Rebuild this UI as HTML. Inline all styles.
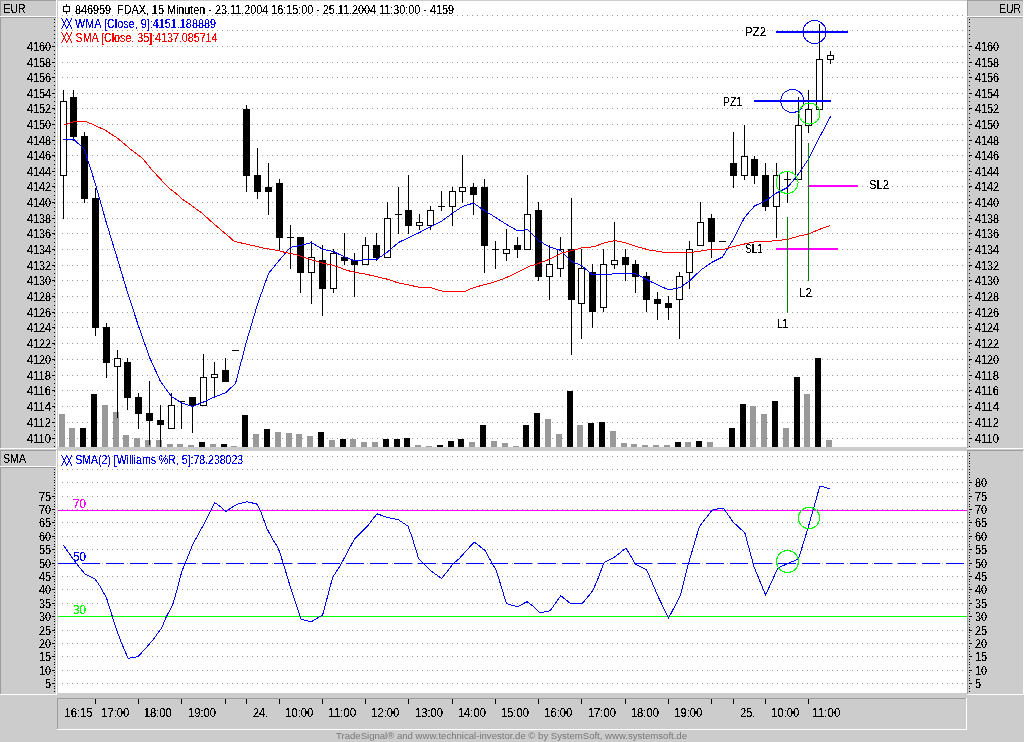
<!DOCTYPE html>
<html><head><meta charset="utf-8"><title>FDAX 15 Minuten</title>
<style>
html,body{margin:0;padding:0;background:#cccccc;width:1024px;height:742px;overflow:hidden}
svg{display:block;will-change:transform}
text{font-family:"Liberation Sans", Arial, sans-serif;white-space:pre}
</style></head><body>
<svg width="1024" height="742" viewBox="0 0 1024 742" shape-rendering="crispEdges">
<defs><filter id="crisp" filterUnits="userSpaceOnUse" x="0" y="0" width="1024" height="742" color-interpolation-filters="sRGB"><feComponentTransfer><feFuncA type="discrete" tableValues="0 0 1 1 1"/></feComponentTransfer></filter></defs>
<rect x="0" y="0" width="1024" height="742" fill="#cccccc"/>
<rect x="0" y="0" width="57" height="17" fill="#cccccc"/>
<rect x="0" y="0" width="56" height="1" fill="#9c9c9c"/>
<rect x="0" y="0" width="1" height="16" fill="#9c9c9c"/>
<rect x="0" y="16" width="57" height="1" fill="#ffffff"/>
<rect x="56" y="0" width="1" height="17" fill="#ffffff"/>
<rect x="0" y="17" width="57" height="432" fill="#cccccc"/>
<rect x="0" y="17" width="56" height="1" fill="#9c9c9c"/>
<rect x="0" y="17" width="1" height="431" fill="#9c9c9c"/>
<rect x="0" y="448" width="57" height="1" fill="#ffffff"/>
<rect x="56" y="17" width="1" height="432" fill="#ffffff"/>
<rect x="0" y="450" width="57" height="17" fill="#cccccc"/>
<rect x="0" y="450" width="56" height="1" fill="#9c9c9c"/>
<rect x="0" y="450" width="1" height="16" fill="#9c9c9c"/>
<rect x="0" y="466" width="57" height="1" fill="#ffffff"/>
<rect x="56" y="450" width="1" height="17" fill="#ffffff"/>
<rect x="0" y="467" width="57" height="228" fill="#cccccc"/>
<rect x="0" y="467" width="56" height="1" fill="#9c9c9c"/>
<rect x="0" y="467" width="1" height="227" fill="#9c9c9c"/>
<rect x="0" y="694" width="57" height="1" fill="#ffffff"/>
<rect x="56" y="467" width="1" height="228" fill="#ffffff"/>
<rect x="967" y="0" width="57" height="17" fill="#cccccc"/>
<rect x="967" y="0" width="56" height="1" fill="#9c9c9c"/>
<rect x="967" y="0" width="1" height="16" fill="#9c9c9c"/>
<rect x="967" y="16" width="57" height="1" fill="#ffffff"/>
<rect x="1023" y="0" width="1" height="17" fill="#ffffff"/>
<rect x="967" y="17" width="57" height="432" fill="#cccccc"/>
<rect x="967" y="17" width="56" height="1" fill="#9c9c9c"/>
<rect x="967" y="17" width="1" height="431" fill="#9c9c9c"/>
<rect x="967" y="448" width="57" height="1" fill="#ffffff"/>
<rect x="1023" y="17" width="1" height="432" fill="#ffffff"/>
<rect x="967" y="450" width="57" height="245" fill="#cccccc"/>
<rect x="967" y="450" width="56" height="1" fill="#9c9c9c"/>
<rect x="967" y="450" width="1" height="244" fill="#9c9c9c"/>
<rect x="967" y="694" width="57" height="1" fill="#ffffff"/>
<rect x="1023" y="450" width="1" height="245" fill="#ffffff"/>
<rect x="57" y="698" width="910" height="32" fill="#cccccc"/>
<rect x="57" y="698" width="909" height="1" fill="#9c9c9c"/>
<rect x="57" y="698" width="1" height="31" fill="#9c9c9c"/>
<rect x="57" y="729" width="910" height="1" fill="#ffffff"/>
<rect x="966" y="698" width="1" height="32" fill="#ffffff"/>
<rect x="58" y="1" width="909" height="446" fill="#ffffff"/>
<rect x="58" y="451" width="909" height="242" fill="#ffffff"/>
<path d="M62 15.5H966 M62 30.5H966 M62 46.5H966 M62 62.5H966 M62 77.5H966 M62 93.5H966 M62 108.5H966 M62 124.5H966 M62 140.5H966 M62 155.5H966 M62 171.5H966 M62 186.5H966 M62 202.5H966 M62 218.5H966 M62 233.5H966 M62 249.5H966 M62 265.5H966 M62 280.5H966 M62 296.5H966 M62 312.5H966 M62 327.5H966 M62 343.5H966 M62 359.5H966 M62 375.5H966 M62 390.5H966 M62 406.5H966 M62 422.5H966 M62 438.5H966 M62 456.5H966 M62 469.5H966 M62 482.5H966 M62 496.5H966 M62 509.5H966 M62 522.5H966 M62 536.5H966 M62 549.5H966 M62 563.5H966 M62 576.5H966 M62 589.5H966 M62 603.5H966 M62 616.5H966 M62 630.5H966 M62 643.5H966 M62 656.5H966 M62 670.5H966 M62 683.5H966" stroke="#999999" stroke-width="1" stroke-dasharray="1 4" fill="none"/>
<rect x="54" y="19" width="1" height="1" fill="#000"/>
<rect x="969" y="19" width="1" height="1" fill="#000"/>
<rect x="54" y="22" width="1" height="1" fill="#000"/>
<rect x="969" y="22" width="1" height="1" fill="#000"/>
<rect x="54" y="26" width="1" height="1" fill="#000"/>
<rect x="969" y="26" width="1" height="1" fill="#000"/>
<rect x="54" y="30" width="1" height="1" fill="#000"/>
<rect x="969" y="30" width="1" height="1" fill="#000"/>
<rect x="54" y="34" width="1" height="1" fill="#000"/>
<rect x="969" y="34" width="1" height="1" fill="#000"/>
<rect x="54" y="38" width="1" height="1" fill="#000"/>
<rect x="969" y="38" width="1" height="1" fill="#000"/>
<rect x="54" y="42" width="1" height="1" fill="#000"/>
<rect x="969" y="42" width="1" height="1" fill="#000"/>
<rect x="54" y="46" width="1" height="1" fill="#000"/>
<rect x="969" y="46" width="1" height="1" fill="#000"/>
<rect x="54" y="50" width="1" height="1" fill="#000"/>
<rect x="969" y="50" width="1" height="1" fill="#000"/>
<rect x="54" y="54" width="1" height="1" fill="#000"/>
<rect x="969" y="54" width="1" height="1" fill="#000"/>
<rect x="54" y="58" width="1" height="1" fill="#000"/>
<rect x="969" y="58" width="1" height="1" fill="#000"/>
<rect x="54" y="62" width="1" height="1" fill="#000"/>
<rect x="969" y="62" width="1" height="1" fill="#000"/>
<rect x="54" y="66" width="1" height="1" fill="#000"/>
<rect x="969" y="66" width="1" height="1" fill="#000"/>
<rect x="54" y="70" width="1" height="1" fill="#000"/>
<rect x="969" y="70" width="1" height="1" fill="#000"/>
<rect x="54" y="73" width="1" height="1" fill="#000"/>
<rect x="969" y="73" width="1" height="1" fill="#000"/>
<rect x="54" y="77" width="1" height="1" fill="#000"/>
<rect x="969" y="77" width="1" height="1" fill="#000"/>
<rect x="54" y="81" width="1" height="1" fill="#000"/>
<rect x="969" y="81" width="1" height="1" fill="#000"/>
<rect x="54" y="85" width="1" height="1" fill="#000"/>
<rect x="969" y="85" width="1" height="1" fill="#000"/>
<rect x="54" y="89" width="1" height="1" fill="#000"/>
<rect x="969" y="89" width="1" height="1" fill="#000"/>
<rect x="54" y="93" width="1" height="1" fill="#000"/>
<rect x="969" y="93" width="1" height="1" fill="#000"/>
<rect x="54" y="97" width="1" height="1" fill="#000"/>
<rect x="969" y="97" width="1" height="1" fill="#000"/>
<rect x="54" y="101" width="1" height="1" fill="#000"/>
<rect x="969" y="101" width="1" height="1" fill="#000"/>
<rect x="54" y="105" width="1" height="1" fill="#000"/>
<rect x="969" y="105" width="1" height="1" fill="#000"/>
<rect x="54" y="109" width="1" height="1" fill="#000"/>
<rect x="969" y="109" width="1" height="1" fill="#000"/>
<rect x="54" y="113" width="1" height="1" fill="#000"/>
<rect x="969" y="113" width="1" height="1" fill="#000"/>
<rect x="54" y="117" width="1" height="1" fill="#000"/>
<rect x="969" y="117" width="1" height="1" fill="#000"/>
<rect x="54" y="120" width="1" height="1" fill="#000"/>
<rect x="969" y="120" width="1" height="1" fill="#000"/>
<rect x="54" y="124" width="1" height="1" fill="#000"/>
<rect x="969" y="124" width="1" height="1" fill="#000"/>
<rect x="54" y="128" width="1" height="1" fill="#000"/>
<rect x="969" y="128" width="1" height="1" fill="#000"/>
<rect x="54" y="132" width="1" height="1" fill="#000"/>
<rect x="969" y="132" width="1" height="1" fill="#000"/>
<rect x="54" y="136" width="1" height="1" fill="#000"/>
<rect x="969" y="136" width="1" height="1" fill="#000"/>
<rect x="54" y="140" width="1" height="1" fill="#000"/>
<rect x="969" y="140" width="1" height="1" fill="#000"/>
<rect x="54" y="144" width="1" height="1" fill="#000"/>
<rect x="969" y="144" width="1" height="1" fill="#000"/>
<rect x="54" y="148" width="1" height="1" fill="#000"/>
<rect x="969" y="148" width="1" height="1" fill="#000"/>
<rect x="54" y="152" width="1" height="1" fill="#000"/>
<rect x="969" y="152" width="1" height="1" fill="#000"/>
<rect x="54" y="156" width="1" height="1" fill="#000"/>
<rect x="969" y="156" width="1" height="1" fill="#000"/>
<rect x="54" y="160" width="1" height="1" fill="#000"/>
<rect x="969" y="160" width="1" height="1" fill="#000"/>
<rect x="54" y="164" width="1" height="1" fill="#000"/>
<rect x="969" y="164" width="1" height="1" fill="#000"/>
<rect x="54" y="168" width="1" height="1" fill="#000"/>
<rect x="969" y="168" width="1" height="1" fill="#000"/>
<rect x="54" y="171" width="1" height="1" fill="#000"/>
<rect x="969" y="171" width="1" height="1" fill="#000"/>
<rect x="54" y="175" width="1" height="1" fill="#000"/>
<rect x="969" y="175" width="1" height="1" fill="#000"/>
<rect x="54" y="179" width="1" height="1" fill="#000"/>
<rect x="969" y="179" width="1" height="1" fill="#000"/>
<rect x="54" y="183" width="1" height="1" fill="#000"/>
<rect x="969" y="183" width="1" height="1" fill="#000"/>
<rect x="54" y="187" width="1" height="1" fill="#000"/>
<rect x="969" y="187" width="1" height="1" fill="#000"/>
<rect x="54" y="191" width="1" height="1" fill="#000"/>
<rect x="969" y="191" width="1" height="1" fill="#000"/>
<rect x="54" y="195" width="1" height="1" fill="#000"/>
<rect x="969" y="195" width="1" height="1" fill="#000"/>
<rect x="54" y="199" width="1" height="1" fill="#000"/>
<rect x="969" y="199" width="1" height="1" fill="#000"/>
<rect x="54" y="203" width="1" height="1" fill="#000"/>
<rect x="969" y="203" width="1" height="1" fill="#000"/>
<rect x="54" y="207" width="1" height="1" fill="#000"/>
<rect x="969" y="207" width="1" height="1" fill="#000"/>
<rect x="54" y="211" width="1" height="1" fill="#000"/>
<rect x="969" y="211" width="1" height="1" fill="#000"/>
<rect x="54" y="215" width="1" height="1" fill="#000"/>
<rect x="969" y="215" width="1" height="1" fill="#000"/>
<rect x="54" y="218" width="1" height="1" fill="#000"/>
<rect x="969" y="218" width="1" height="1" fill="#000"/>
<rect x="54" y="222" width="1" height="1" fill="#000"/>
<rect x="969" y="222" width="1" height="1" fill="#000"/>
<rect x="54" y="226" width="1" height="1" fill="#000"/>
<rect x="969" y="226" width="1" height="1" fill="#000"/>
<rect x="54" y="230" width="1" height="1" fill="#000"/>
<rect x="969" y="230" width="1" height="1" fill="#000"/>
<rect x="54" y="234" width="1" height="1" fill="#000"/>
<rect x="969" y="234" width="1" height="1" fill="#000"/>
<rect x="54" y="238" width="1" height="1" fill="#000"/>
<rect x="969" y="238" width="1" height="1" fill="#000"/>
<rect x="54" y="242" width="1" height="1" fill="#000"/>
<rect x="969" y="242" width="1" height="1" fill="#000"/>
<rect x="54" y="246" width="1" height="1" fill="#000"/>
<rect x="969" y="246" width="1" height="1" fill="#000"/>
<rect x="54" y="250" width="1" height="1" fill="#000"/>
<rect x="969" y="250" width="1" height="1" fill="#000"/>
<rect x="54" y="254" width="1" height="1" fill="#000"/>
<rect x="969" y="254" width="1" height="1" fill="#000"/>
<rect x="54" y="258" width="1" height="1" fill="#000"/>
<rect x="969" y="258" width="1" height="1" fill="#000"/>
<rect x="54" y="262" width="1" height="1" fill="#000"/>
<rect x="969" y="262" width="1" height="1" fill="#000"/>
<rect x="54" y="266" width="1" height="1" fill="#000"/>
<rect x="969" y="266" width="1" height="1" fill="#000"/>
<rect x="54" y="269" width="1" height="1" fill="#000"/>
<rect x="969" y="269" width="1" height="1" fill="#000"/>
<rect x="54" y="273" width="1" height="1" fill="#000"/>
<rect x="969" y="273" width="1" height="1" fill="#000"/>
<rect x="54" y="277" width="1" height="1" fill="#000"/>
<rect x="969" y="277" width="1" height="1" fill="#000"/>
<rect x="54" y="281" width="1" height="1" fill="#000"/>
<rect x="969" y="281" width="1" height="1" fill="#000"/>
<rect x="54" y="285" width="1" height="1" fill="#000"/>
<rect x="969" y="285" width="1" height="1" fill="#000"/>
<rect x="54" y="289" width="1" height="1" fill="#000"/>
<rect x="969" y="289" width="1" height="1" fill="#000"/>
<rect x="54" y="293" width="1" height="1" fill="#000"/>
<rect x="969" y="293" width="1" height="1" fill="#000"/>
<rect x="54" y="297" width="1" height="1" fill="#000"/>
<rect x="969" y="297" width="1" height="1" fill="#000"/>
<rect x="54" y="301" width="1" height="1" fill="#000"/>
<rect x="969" y="301" width="1" height="1" fill="#000"/>
<rect x="54" y="305" width="1" height="1" fill="#000"/>
<rect x="969" y="305" width="1" height="1" fill="#000"/>
<rect x="54" y="309" width="1" height="1" fill="#000"/>
<rect x="969" y="309" width="1" height="1" fill="#000"/>
<rect x="54" y="313" width="1" height="1" fill="#000"/>
<rect x="969" y="313" width="1" height="1" fill="#000"/>
<rect x="54" y="316" width="1" height="1" fill="#000"/>
<rect x="969" y="316" width="1" height="1" fill="#000"/>
<rect x="54" y="320" width="1" height="1" fill="#000"/>
<rect x="969" y="320" width="1" height="1" fill="#000"/>
<rect x="54" y="324" width="1" height="1" fill="#000"/>
<rect x="969" y="324" width="1" height="1" fill="#000"/>
<rect x="54" y="328" width="1" height="1" fill="#000"/>
<rect x="969" y="328" width="1" height="1" fill="#000"/>
<rect x="54" y="332" width="1" height="1" fill="#000"/>
<rect x="969" y="332" width="1" height="1" fill="#000"/>
<rect x="54" y="336" width="1" height="1" fill="#000"/>
<rect x="969" y="336" width="1" height="1" fill="#000"/>
<rect x="54" y="340" width="1" height="1" fill="#000"/>
<rect x="969" y="340" width="1" height="1" fill="#000"/>
<rect x="54" y="344" width="1" height="1" fill="#000"/>
<rect x="969" y="344" width="1" height="1" fill="#000"/>
<rect x="54" y="348" width="1" height="1" fill="#000"/>
<rect x="969" y="348" width="1" height="1" fill="#000"/>
<rect x="54" y="352" width="1" height="1" fill="#000"/>
<rect x="969" y="352" width="1" height="1" fill="#000"/>
<rect x="54" y="356" width="1" height="1" fill="#000"/>
<rect x="969" y="356" width="1" height="1" fill="#000"/>
<rect x="54" y="360" width="1" height="1" fill="#000"/>
<rect x="969" y="360" width="1" height="1" fill="#000"/>
<rect x="54" y="364" width="1" height="1" fill="#000"/>
<rect x="969" y="364" width="1" height="1" fill="#000"/>
<rect x="54" y="367" width="1" height="1" fill="#000"/>
<rect x="969" y="367" width="1" height="1" fill="#000"/>
<rect x="54" y="371" width="1" height="1" fill="#000"/>
<rect x="969" y="371" width="1" height="1" fill="#000"/>
<rect x="54" y="375" width="1" height="1" fill="#000"/>
<rect x="969" y="375" width="1" height="1" fill="#000"/>
<rect x="54" y="379" width="1" height="1" fill="#000"/>
<rect x="969" y="379" width="1" height="1" fill="#000"/>
<rect x="54" y="383" width="1" height="1" fill="#000"/>
<rect x="969" y="383" width="1" height="1" fill="#000"/>
<rect x="54" y="387" width="1" height="1" fill="#000"/>
<rect x="969" y="387" width="1" height="1" fill="#000"/>
<rect x="54" y="391" width="1" height="1" fill="#000"/>
<rect x="969" y="391" width="1" height="1" fill="#000"/>
<rect x="54" y="395" width="1" height="1" fill="#000"/>
<rect x="969" y="395" width="1" height="1" fill="#000"/>
<rect x="54" y="399" width="1" height="1" fill="#000"/>
<rect x="969" y="399" width="1" height="1" fill="#000"/>
<rect x="54" y="403" width="1" height="1" fill="#000"/>
<rect x="969" y="403" width="1" height="1" fill="#000"/>
<rect x="54" y="407" width="1" height="1" fill="#000"/>
<rect x="969" y="407" width="1" height="1" fill="#000"/>
<rect x="54" y="411" width="1" height="1" fill="#000"/>
<rect x="969" y="411" width="1" height="1" fill="#000"/>
<rect x="54" y="414" width="1" height="1" fill="#000"/>
<rect x="969" y="414" width="1" height="1" fill="#000"/>
<rect x="54" y="418" width="1" height="1" fill="#000"/>
<rect x="969" y="418" width="1" height="1" fill="#000"/>
<rect x="54" y="422" width="1" height="1" fill="#000"/>
<rect x="969" y="422" width="1" height="1" fill="#000"/>
<rect x="54" y="426" width="1" height="1" fill="#000"/>
<rect x="969" y="426" width="1" height="1" fill="#000"/>
<rect x="54" y="430" width="1" height="1" fill="#000"/>
<rect x="969" y="430" width="1" height="1" fill="#000"/>
<rect x="54" y="434" width="1" height="1" fill="#000"/>
<rect x="969" y="434" width="1" height="1" fill="#000"/>
<rect x="54" y="438" width="1" height="1" fill="#000"/>
<rect x="969" y="438" width="1" height="1" fill="#000"/>
<rect x="54" y="442" width="1" height="1" fill="#000"/>
<rect x="969" y="442" width="1" height="1" fill="#000"/>
<rect x="54" y="446" width="1" height="1" fill="#000"/>
<rect x="969" y="446" width="1" height="1" fill="#000"/>
<rect x="54" y="691" width="1" height="1" fill="#000"/>
<rect x="969" y="691" width="1" height="1" fill="#000"/>
<rect x="54" y="688" width="1" height="1" fill="#000"/>
<rect x="969" y="688" width="1" height="1" fill="#000"/>
<rect x="54" y="686" width="1" height="1" fill="#000"/>
<rect x="969" y="686" width="1" height="1" fill="#000"/>
<rect x="54" y="683" width="1" height="1" fill="#000"/>
<rect x="969" y="683" width="1" height="1" fill="#000"/>
<rect x="54" y="680" width="1" height="1" fill="#000"/>
<rect x="969" y="680" width="1" height="1" fill="#000"/>
<rect x="54" y="678" width="1" height="1" fill="#000"/>
<rect x="969" y="678" width="1" height="1" fill="#000"/>
<rect x="54" y="675" width="1" height="1" fill="#000"/>
<rect x="969" y="675" width="1" height="1" fill="#000"/>
<rect x="54" y="672" width="1" height="1" fill="#000"/>
<rect x="969" y="672" width="1" height="1" fill="#000"/>
<rect x="54" y="670" width="1" height="1" fill="#000"/>
<rect x="969" y="670" width="1" height="1" fill="#000"/>
<rect x="54" y="667" width="1" height="1" fill="#000"/>
<rect x="969" y="667" width="1" height="1" fill="#000"/>
<rect x="54" y="664" width="1" height="1" fill="#000"/>
<rect x="969" y="664" width="1" height="1" fill="#000"/>
<rect x="54" y="662" width="1" height="1" fill="#000"/>
<rect x="969" y="662" width="1" height="1" fill="#000"/>
<rect x="54" y="659" width="1" height="1" fill="#000"/>
<rect x="969" y="659" width="1" height="1" fill="#000"/>
<rect x="54" y="656" width="1" height="1" fill="#000"/>
<rect x="969" y="656" width="1" height="1" fill="#000"/>
<rect x="54" y="654" width="1" height="1" fill="#000"/>
<rect x="969" y="654" width="1" height="1" fill="#000"/>
<rect x="54" y="651" width="1" height="1" fill="#000"/>
<rect x="969" y="651" width="1" height="1" fill="#000"/>
<rect x="54" y="648" width="1" height="1" fill="#000"/>
<rect x="969" y="648" width="1" height="1" fill="#000"/>
<rect x="54" y="646" width="1" height="1" fill="#000"/>
<rect x="969" y="646" width="1" height="1" fill="#000"/>
<rect x="54" y="643" width="1" height="1" fill="#000"/>
<rect x="969" y="643" width="1" height="1" fill="#000"/>
<rect x="54" y="640" width="1" height="1" fill="#000"/>
<rect x="969" y="640" width="1" height="1" fill="#000"/>
<rect x="54" y="637" width="1" height="1" fill="#000"/>
<rect x="969" y="637" width="1" height="1" fill="#000"/>
<rect x="54" y="635" width="1" height="1" fill="#000"/>
<rect x="969" y="635" width="1" height="1" fill="#000"/>
<rect x="54" y="632" width="1" height="1" fill="#000"/>
<rect x="969" y="632" width="1" height="1" fill="#000"/>
<rect x="54" y="629" width="1" height="1" fill="#000"/>
<rect x="969" y="629" width="1" height="1" fill="#000"/>
<rect x="54" y="627" width="1" height="1" fill="#000"/>
<rect x="969" y="627" width="1" height="1" fill="#000"/>
<rect x="54" y="624" width="1" height="1" fill="#000"/>
<rect x="969" y="624" width="1" height="1" fill="#000"/>
<rect x="54" y="621" width="1" height="1" fill="#000"/>
<rect x="969" y="621" width="1" height="1" fill="#000"/>
<rect x="54" y="619" width="1" height="1" fill="#000"/>
<rect x="969" y="619" width="1" height="1" fill="#000"/>
<rect x="54" y="616" width="1" height="1" fill="#000"/>
<rect x="969" y="616" width="1" height="1" fill="#000"/>
<rect x="54" y="613" width="1" height="1" fill="#000"/>
<rect x="969" y="613" width="1" height="1" fill="#000"/>
<rect x="54" y="611" width="1" height="1" fill="#000"/>
<rect x="969" y="611" width="1" height="1" fill="#000"/>
<rect x="54" y="608" width="1" height="1" fill="#000"/>
<rect x="969" y="608" width="1" height="1" fill="#000"/>
<rect x="54" y="605" width="1" height="1" fill="#000"/>
<rect x="969" y="605" width="1" height="1" fill="#000"/>
<rect x="54" y="603" width="1" height="1" fill="#000"/>
<rect x="969" y="603" width="1" height="1" fill="#000"/>
<rect x="54" y="600" width="1" height="1" fill="#000"/>
<rect x="969" y="600" width="1" height="1" fill="#000"/>
<rect x="54" y="597" width="1" height="1" fill="#000"/>
<rect x="969" y="597" width="1" height="1" fill="#000"/>
<rect x="54" y="595" width="1" height="1" fill="#000"/>
<rect x="969" y="595" width="1" height="1" fill="#000"/>
<rect x="54" y="592" width="1" height="1" fill="#000"/>
<rect x="969" y="592" width="1" height="1" fill="#000"/>
<rect x="54" y="589" width="1" height="1" fill="#000"/>
<rect x="969" y="589" width="1" height="1" fill="#000"/>
<rect x="54" y="587" width="1" height="1" fill="#000"/>
<rect x="969" y="587" width="1" height="1" fill="#000"/>
<rect x="54" y="584" width="1" height="1" fill="#000"/>
<rect x="969" y="584" width="1" height="1" fill="#000"/>
<rect x="54" y="581" width="1" height="1" fill="#000"/>
<rect x="969" y="581" width="1" height="1" fill="#000"/>
<rect x="54" y="579" width="1" height="1" fill="#000"/>
<rect x="969" y="579" width="1" height="1" fill="#000"/>
<rect x="54" y="576" width="1" height="1" fill="#000"/>
<rect x="969" y="576" width="1" height="1" fill="#000"/>
<rect x="54" y="573" width="1" height="1" fill="#000"/>
<rect x="969" y="573" width="1" height="1" fill="#000"/>
<rect x="54" y="571" width="1" height="1" fill="#000"/>
<rect x="969" y="571" width="1" height="1" fill="#000"/>
<rect x="54" y="568" width="1" height="1" fill="#000"/>
<rect x="969" y="568" width="1" height="1" fill="#000"/>
<rect x="54" y="565" width="1" height="1" fill="#000"/>
<rect x="969" y="565" width="1" height="1" fill="#000"/>
<rect x="54" y="563" width="1" height="1" fill="#000"/>
<rect x="969" y="563" width="1" height="1" fill="#000"/>
<rect x="54" y="560" width="1" height="1" fill="#000"/>
<rect x="969" y="560" width="1" height="1" fill="#000"/>
<rect x="54" y="557" width="1" height="1" fill="#000"/>
<rect x="969" y="557" width="1" height="1" fill="#000"/>
<rect x="54" y="555" width="1" height="1" fill="#000"/>
<rect x="969" y="555" width="1" height="1" fill="#000"/>
<rect x="54" y="552" width="1" height="1" fill="#000"/>
<rect x="969" y="552" width="1" height="1" fill="#000"/>
<rect x="54" y="549" width="1" height="1" fill="#000"/>
<rect x="969" y="549" width="1" height="1" fill="#000"/>
<rect x="54" y="546" width="1" height="1" fill="#000"/>
<rect x="969" y="546" width="1" height="1" fill="#000"/>
<rect x="54" y="544" width="1" height="1" fill="#000"/>
<rect x="969" y="544" width="1" height="1" fill="#000"/>
<rect x="54" y="541" width="1" height="1" fill="#000"/>
<rect x="969" y="541" width="1" height="1" fill="#000"/>
<rect x="54" y="538" width="1" height="1" fill="#000"/>
<rect x="969" y="538" width="1" height="1" fill="#000"/>
<rect x="54" y="536" width="1" height="1" fill="#000"/>
<rect x="969" y="536" width="1" height="1" fill="#000"/>
<rect x="54" y="533" width="1" height="1" fill="#000"/>
<rect x="969" y="533" width="1" height="1" fill="#000"/>
<rect x="54" y="530" width="1" height="1" fill="#000"/>
<rect x="969" y="530" width="1" height="1" fill="#000"/>
<rect x="54" y="528" width="1" height="1" fill="#000"/>
<rect x="969" y="528" width="1" height="1" fill="#000"/>
<rect x="54" y="525" width="1" height="1" fill="#000"/>
<rect x="969" y="525" width="1" height="1" fill="#000"/>
<rect x="54" y="522" width="1" height="1" fill="#000"/>
<rect x="969" y="522" width="1" height="1" fill="#000"/>
<rect x="54" y="520" width="1" height="1" fill="#000"/>
<rect x="969" y="520" width="1" height="1" fill="#000"/>
<rect x="54" y="517" width="1" height="1" fill="#000"/>
<rect x="969" y="517" width="1" height="1" fill="#000"/>
<rect x="54" y="514" width="1" height="1" fill="#000"/>
<rect x="969" y="514" width="1" height="1" fill="#000"/>
<rect x="54" y="512" width="1" height="1" fill="#000"/>
<rect x="969" y="512" width="1" height="1" fill="#000"/>
<rect x="54" y="509" width="1" height="1" fill="#000"/>
<rect x="969" y="509" width="1" height="1" fill="#000"/>
<rect x="54" y="506" width="1" height="1" fill="#000"/>
<rect x="969" y="506" width="1" height="1" fill="#000"/>
<rect x="54" y="504" width="1" height="1" fill="#000"/>
<rect x="969" y="504" width="1" height="1" fill="#000"/>
<rect x="54" y="501" width="1" height="1" fill="#000"/>
<rect x="969" y="501" width="1" height="1" fill="#000"/>
<rect x="54" y="498" width="1" height="1" fill="#000"/>
<rect x="969" y="498" width="1" height="1" fill="#000"/>
<rect x="54" y="496" width="1" height="1" fill="#000"/>
<rect x="969" y="496" width="1" height="1" fill="#000"/>
<rect x="54" y="493" width="1" height="1" fill="#000"/>
<rect x="969" y="493" width="1" height="1" fill="#000"/>
<rect x="54" y="490" width="1" height="1" fill="#000"/>
<rect x="969" y="490" width="1" height="1" fill="#000"/>
<rect x="54" y="488" width="1" height="1" fill="#000"/>
<rect x="969" y="488" width="1" height="1" fill="#000"/>
<rect x="54" y="485" width="1" height="1" fill="#000"/>
<rect x="969" y="485" width="1" height="1" fill="#000"/>
<rect x="54" y="482" width="1" height="1" fill="#000"/>
<rect x="969" y="482" width="1" height="1" fill="#000"/>
<rect x="54" y="480" width="1" height="1" fill="#000"/>
<rect x="969" y="480" width="1" height="1" fill="#000"/>
<rect x="54" y="477" width="1" height="1" fill="#000"/>
<rect x="969" y="477" width="1" height="1" fill="#000"/>
<rect x="54" y="474" width="1" height="1" fill="#000"/>
<rect x="969" y="474" width="1" height="1" fill="#000"/>
<rect x="54" y="472" width="1" height="1" fill="#000"/>
<rect x="969" y="472" width="1" height="1" fill="#000"/>
<rect x="54" y="469" width="1" height="1" fill="#000"/>
<rect x="969" y="469" width="1" height="1" fill="#000"/>
<rect x="969" y="466" width="1" height="1" fill="#000"/>
<rect x="969" y="463" width="1" height="1" fill="#000"/>
<rect x="969" y="461" width="1" height="1" fill="#000"/>
<rect x="969" y="458" width="1" height="1" fill="#000"/>
<rect x="969" y="455" width="1" height="1" fill="#000"/>
<rect x="969" y="453" width="1" height="1" fill="#000"/>
<rect x="52" y="46" width="3" height="1" fill="#000"/>
<rect x="969" y="46" width="3" height="1" fill="#000"/>
<rect x="52" y="62" width="3" height="1" fill="#000"/>
<rect x="969" y="62" width="3" height="1" fill="#000"/>
<rect x="52" y="77" width="3" height="1" fill="#000"/>
<rect x="969" y="77" width="3" height="1" fill="#000"/>
<rect x="52" y="93" width="3" height="1" fill="#000"/>
<rect x="969" y="93" width="3" height="1" fill="#000"/>
<rect x="52" y="108" width="3" height="1" fill="#000"/>
<rect x="969" y="108" width="3" height="1" fill="#000"/>
<rect x="52" y="124" width="3" height="1" fill="#000"/>
<rect x="969" y="124" width="3" height="1" fill="#000"/>
<rect x="52" y="140" width="3" height="1" fill="#000"/>
<rect x="969" y="140" width="3" height="1" fill="#000"/>
<rect x="52" y="155" width="3" height="1" fill="#000"/>
<rect x="969" y="155" width="3" height="1" fill="#000"/>
<rect x="52" y="171" width="3" height="1" fill="#000"/>
<rect x="969" y="171" width="3" height="1" fill="#000"/>
<rect x="52" y="186" width="3" height="1" fill="#000"/>
<rect x="969" y="186" width="3" height="1" fill="#000"/>
<rect x="52" y="202" width="3" height="1" fill="#000"/>
<rect x="969" y="202" width="3" height="1" fill="#000"/>
<rect x="52" y="218" width="3" height="1" fill="#000"/>
<rect x="969" y="218" width="3" height="1" fill="#000"/>
<rect x="52" y="233" width="3" height="1" fill="#000"/>
<rect x="969" y="233" width="3" height="1" fill="#000"/>
<rect x="52" y="249" width="3" height="1" fill="#000"/>
<rect x="969" y="249" width="3" height="1" fill="#000"/>
<rect x="52" y="265" width="3" height="1" fill="#000"/>
<rect x="969" y="265" width="3" height="1" fill="#000"/>
<rect x="52" y="280" width="3" height="1" fill="#000"/>
<rect x="969" y="280" width="3" height="1" fill="#000"/>
<rect x="52" y="296" width="3" height="1" fill="#000"/>
<rect x="969" y="296" width="3" height="1" fill="#000"/>
<rect x="52" y="312" width="3" height="1" fill="#000"/>
<rect x="969" y="312" width="3" height="1" fill="#000"/>
<rect x="52" y="327" width="3" height="1" fill="#000"/>
<rect x="969" y="327" width="3" height="1" fill="#000"/>
<rect x="52" y="343" width="3" height="1" fill="#000"/>
<rect x="969" y="343" width="3" height="1" fill="#000"/>
<rect x="52" y="359" width="3" height="1" fill="#000"/>
<rect x="969" y="359" width="3" height="1" fill="#000"/>
<rect x="52" y="375" width="3" height="1" fill="#000"/>
<rect x="969" y="375" width="3" height="1" fill="#000"/>
<rect x="52" y="390" width="3" height="1" fill="#000"/>
<rect x="969" y="390" width="3" height="1" fill="#000"/>
<rect x="52" y="406" width="3" height="1" fill="#000"/>
<rect x="969" y="406" width="3" height="1" fill="#000"/>
<rect x="52" y="422" width="3" height="1" fill="#000"/>
<rect x="969" y="422" width="3" height="1" fill="#000"/>
<rect x="52" y="438" width="3" height="1" fill="#000"/>
<rect x="969" y="438" width="3" height="1" fill="#000"/>
<rect x="969" y="482" width="3" height="1" fill="#000"/>
<rect x="52" y="496" width="3" height="1" fill="#000"/>
<rect x="969" y="496" width="3" height="1" fill="#000"/>
<rect x="52" y="509" width="3" height="1" fill="#000"/>
<rect x="969" y="509" width="3" height="1" fill="#000"/>
<rect x="52" y="522" width="3" height="1" fill="#000"/>
<rect x="969" y="522" width="3" height="1" fill="#000"/>
<rect x="52" y="536" width="3" height="1" fill="#000"/>
<rect x="969" y="536" width="3" height="1" fill="#000"/>
<rect x="52" y="549" width="3" height="1" fill="#000"/>
<rect x="969" y="549" width="3" height="1" fill="#000"/>
<rect x="52" y="563" width="3" height="1" fill="#000"/>
<rect x="969" y="563" width="3" height="1" fill="#000"/>
<rect x="52" y="576" width="3" height="1" fill="#000"/>
<rect x="969" y="576" width="3" height="1" fill="#000"/>
<rect x="52" y="589" width="3" height="1" fill="#000"/>
<rect x="969" y="589" width="3" height="1" fill="#000"/>
<rect x="52" y="603" width="3" height="1" fill="#000"/>
<rect x="969" y="603" width="3" height="1" fill="#000"/>
<rect x="52" y="616" width="3" height="1" fill="#000"/>
<rect x="969" y="616" width="3" height="1" fill="#000"/>
<rect x="52" y="630" width="3" height="1" fill="#000"/>
<rect x="969" y="630" width="3" height="1" fill="#000"/>
<rect x="52" y="643" width="3" height="1" fill="#000"/>
<rect x="969" y="643" width="3" height="1" fill="#000"/>
<rect x="52" y="656" width="3" height="1" fill="#000"/>
<rect x="969" y="656" width="3" height="1" fill="#000"/>
<rect x="52" y="670" width="3" height="1" fill="#000"/>
<rect x="969" y="670" width="3" height="1" fill="#000"/>
<rect x="52" y="683" width="3" height="1" fill="#000"/>
<rect x="969" y="683" width="3" height="1" fill="#000"/>
<rect x="59" y="414" width="6" height="33" fill="#999999"/>
<rect x="69" y="428" width="6" height="19" fill="#999999"/>
<rect x="80" y="428" width="6" height="19" fill="#000"/>
<rect x="91" y="394" width="6" height="53" fill="#000"/>
<rect x="102" y="405" width="6" height="42" fill="#999999"/>
<rect x="113" y="412" width="6" height="35" fill="#999999"/>
<rect x="123" y="435" width="6" height="12" fill="#999999"/>
<rect x="134" y="438" width="6" height="9" fill="#999999"/>
<rect x="145" y="440" width="6" height="7" fill="#999999"/>
<rect x="156" y="440" width="6" height="7" fill="#999999"/>
<rect x="167" y="444" width="6" height="3" fill="#999999"/>
<rect x="177" y="444" width="6" height="3" fill="#999999"/>
<rect x="188" y="445" width="6" height="2" fill="#999999"/>
<rect x="199" y="442" width="6" height="5" fill="#000"/>
<rect x="210" y="444" width="6" height="3" fill="#999999"/>
<rect x="221" y="444" width="6" height="3" fill="#000"/>
<rect x="231" y="446" width="6" height="1" fill="#999999"/>
<rect x="242" y="415" width="6" height="32" fill="#000"/>
<rect x="253" y="434" width="6" height="13" fill="#999999"/>
<rect x="264" y="429" width="6" height="18" fill="#000"/>
<rect x="275" y="432" width="6" height="15" fill="#999999"/>
<rect x="286" y="433" width="6" height="14" fill="#999999"/>
<rect x="296" y="434" width="6" height="13" fill="#999999"/>
<rect x="307" y="436" width="6" height="11" fill="#999999"/>
<rect x="318" y="432" width="6" height="15" fill="#000"/>
<rect x="329" y="440" width="6" height="7" fill="#999999"/>
<rect x="340" y="439" width="6" height="8" fill="#000"/>
<rect x="350" y="439" width="6" height="8" fill="#999999"/>
<rect x="361" y="442" width="6" height="5" fill="#999999"/>
<rect x="372" y="442" width="6" height="5" fill="#999999"/>
<rect x="383" y="439" width="6" height="8" fill="#000"/>
<rect x="394" y="439" width="6" height="8" fill="#000"/>
<rect x="404" y="438" width="6" height="9" fill="#000"/>
<rect x="415" y="445" width="6" height="2" fill="#999999"/>
<rect x="426" y="446" width="6" height="1" fill="#999999"/>
<rect x="437" y="445" width="6" height="2" fill="#000"/>
<rect x="448" y="441" width="6" height="6" fill="#000"/>
<rect x="458" y="439" width="6" height="8" fill="#000"/>
<rect x="469" y="442" width="6" height="5" fill="#999999"/>
<rect x="480" y="425" width="6" height="22" fill="#000"/>
<rect x="491" y="441" width="6" height="6" fill="#999999"/>
<rect x="502" y="443" width="6" height="4" fill="#999999"/>
<rect x="513" y="446" width="6" height="1" fill="#999999"/>
<rect x="523" y="425" width="6" height="22" fill="#000"/>
<rect x="534" y="413" width="6" height="34" fill="#000"/>
<rect x="545" y="419" width="6" height="28" fill="#999999"/>
<rect x="556" y="434" width="6" height="13" fill="#999999"/>
<rect x="567" y="391" width="6" height="56" fill="#000"/>
<rect x="577" y="425" width="6" height="22" fill="#999999"/>
<rect x="588" y="423" width="6" height="24" fill="#000"/>
<rect x="599" y="422" width="6" height="25" fill="#000"/>
<rect x="610" y="431" width="6" height="16" fill="#999999"/>
<rect x="621" y="443" width="6" height="4" fill="#999999"/>
<rect x="631" y="444" width="6" height="3" fill="#999999"/>
<rect x="642" y="445" width="6" height="2" fill="#999999"/>
<rect x="653" y="445" width="6" height="2" fill="#999999"/>
<rect x="664" y="445" width="6" height="2" fill="#999999"/>
<rect x="675" y="442" width="6" height="5" fill="#000"/>
<rect x="685" y="442" width="6" height="5" fill="#999999"/>
<rect x="696" y="441" width="6" height="6" fill="#000"/>
<rect x="707" y="442" width="6" height="5" fill="#999999"/>
<rect x="729" y="428" width="6" height="19" fill="#000"/>
<rect x="740" y="404" width="6" height="43" fill="#000"/>
<rect x="750" y="406" width="6" height="41" fill="#999999"/>
<rect x="761" y="414" width="6" height="33" fill="#999999"/>
<rect x="772" y="401" width="6" height="46" fill="#000"/>
<rect x="783" y="428" width="6" height="19" fill="#999999"/>
<rect x="794" y="377" width="6" height="70" fill="#000"/>
<rect x="804" y="394" width="6" height="53" fill="#999999"/>
<rect x="815" y="358" width="6" height="89" fill="#000"/>
<rect x="826" y="440" width="6" height="7" fill="#999999"/>
<rect x="63" y="90" width="1" height="129" fill="#000"/>
<rect x="60" y="101" width="7" height="75" fill="#000"/>
<rect x="61" y="102" width="5" height="73" fill="#fff"/>
<rect x="73" y="90" width="1" height="51" fill="#000"/>
<rect x="70" y="97" width="7" height="40" fill="#000"/>
<rect x="84" y="132" width="1" height="71" fill="#000"/>
<rect x="81" y="136" width="7" height="63" fill="#000"/>
<rect x="95" y="188" width="1" height="148" fill="#000"/>
<rect x="92" y="198" width="7" height="130" fill="#000"/>
<rect x="106" y="323" width="1" height="55" fill="#000"/>
<rect x="103" y="327" width="7" height="36" fill="#000"/>
<rect x="117" y="350" width="1" height="68" fill="#000"/>
<rect x="114" y="358" width="7" height="9" fill="#000"/>
<rect x="115" y="359" width="5" height="7" fill="#fff"/>
<rect x="127" y="358" width="1" height="52" fill="#000"/>
<rect x="124" y="362" width="7" height="36" fill="#000"/>
<rect x="138" y="393" width="1" height="36" fill="#000"/>
<rect x="135" y="397" width="7" height="17" fill="#000"/>
<rect x="149" y="381" width="1" height="64" fill="#000"/>
<rect x="146" y="413" width="7" height="8" fill="#000"/>
<rect x="160" y="405" width="1" height="42" fill="#000"/>
<rect x="157" y="420" width="7" height="5" fill="#000"/>
<rect x="171" y="393" width="1" height="36" fill="#000"/>
<rect x="168" y="405" width="7" height="24" fill="#000"/>
<rect x="169" y="406" width="5" height="22" fill="#fff"/>
<rect x="181" y="401" width="1" height="28" fill="#000"/>
<rect x="178" y="401" width="7" height="1" fill="#000"/>
<rect x="192" y="397" width="1" height="36" fill="#000"/>
<rect x="189" y="397" width="7" height="9" fill="#000"/>
<rect x="203" y="354" width="1" height="52" fill="#000"/>
<rect x="200" y="377" width="7" height="29" fill="#000"/>
<rect x="201" y="378" width="5" height="27" fill="#fff"/>
<rect x="214" y="362" width="1" height="36" fill="#000"/>
<rect x="211" y="374" width="7" height="4" fill="#000"/>
<rect x="212" y="375" width="5" height="2" fill="#fff"/>
<rect x="225" y="358" width="1" height="24" fill="#000"/>
<rect x="222" y="370" width="7" height="12" fill="#000"/>
<rect x="232" y="350" width="7" height="1" fill="#000"/>
<rect x="246" y="105" width="1" height="87" fill="#000"/>
<rect x="243" y="109" width="7" height="67" fill="#000"/>
<rect x="257" y="148" width="1" height="51" fill="#000"/>
<rect x="254" y="175" width="7" height="17" fill="#000"/>
<rect x="268" y="163" width="1" height="52" fill="#000"/>
<rect x="265" y="187" width="7" height="5" fill="#000"/>
<rect x="279" y="179" width="1" height="72" fill="#000"/>
<rect x="276" y="183" width="7" height="55" fill="#000"/>
<rect x="290" y="225" width="1" height="44" fill="#000"/>
<rect x="287" y="237" width="7" height="1" fill="#000"/>
<rect x="300" y="237" width="1" height="56" fill="#000"/>
<rect x="297" y="237" width="7" height="36" fill="#000"/>
<rect x="311" y="241" width="1" height="63" fill="#000"/>
<rect x="308" y="257" width="7" height="16" fill="#000"/>
<rect x="309" y="258" width="5" height="14" fill="#fff"/>
<rect x="322" y="245" width="1" height="71" fill="#000"/>
<rect x="319" y="260" width="7" height="29" fill="#000"/>
<rect x="333" y="249" width="1" height="44" fill="#000"/>
<rect x="330" y="253" width="7" height="36" fill="#000"/>
<rect x="331" y="254" width="5" height="34" fill="#fff"/>
<rect x="344" y="233" width="1" height="32" fill="#000"/>
<rect x="341" y="257" width="7" height="4" fill="#000"/>
<rect x="354" y="253" width="1" height="44" fill="#000"/>
<rect x="351" y="260" width="7" height="5" fill="#000"/>
<rect x="365" y="237" width="1" height="28" fill="#000"/>
<rect x="362" y="245" width="7" height="20" fill="#000"/>
<rect x="363" y="246" width="5" height="18" fill="#fff"/>
<rect x="376" y="233" width="1" height="28" fill="#000"/>
<rect x="373" y="245" width="7" height="13" fill="#000"/>
<rect x="387" y="202" width="1" height="56" fill="#000"/>
<rect x="384" y="218" width="7" height="40" fill="#000"/>
<rect x="385" y="219" width="5" height="38" fill="#fff"/>
<rect x="398" y="187" width="1" height="47" fill="#000"/>
<rect x="395" y="214" width="7" height="1" fill="#000"/>
<rect x="408" y="175" width="1" height="59" fill="#000"/>
<rect x="405" y="210" width="7" height="16" fill="#000"/>
<rect x="419" y="214" width="1" height="16" fill="#000"/>
<rect x="416" y="222" width="7" height="4" fill="#000"/>
<rect x="417" y="223" width="5" height="2" fill="#fff"/>
<rect x="430" y="206" width="1" height="24" fill="#000"/>
<rect x="427" y="210" width="7" height="16" fill="#000"/>
<rect x="428" y="211" width="5" height="14" fill="#fff"/>
<rect x="441" y="191" width="1" height="20" fill="#000"/>
<rect x="438" y="206" width="7" height="1" fill="#000"/>
<rect x="452" y="187" width="1" height="39" fill="#000"/>
<rect x="449" y="191" width="7" height="16" fill="#000"/>
<rect x="450" y="192" width="5" height="14" fill="#fff"/>
<rect x="462" y="155" width="1" height="48" fill="#000"/>
<rect x="459" y="187" width="7" height="5" fill="#000"/>
<rect x="460" y="188" width="5" height="3" fill="#fff"/>
<rect x="473" y="183" width="1" height="32" fill="#000"/>
<rect x="470" y="187" width="7" height="8" fill="#000"/>
<rect x="484" y="179" width="1" height="94" fill="#000"/>
<rect x="481" y="187" width="7" height="59" fill="#000"/>
<rect x="495" y="241" width="1" height="28" fill="#000"/>
<rect x="492" y="249" width="7" height="1" fill="#000"/>
<rect x="506" y="229" width="1" height="32" fill="#000"/>
<rect x="503" y="249" width="7" height="5" fill="#000"/>
<rect x="504" y="250" width="5" height="3" fill="#fff"/>
<rect x="517" y="237" width="1" height="21" fill="#000"/>
<rect x="514" y="245" width="7" height="5" fill="#000"/>
<rect x="527" y="175" width="1" height="75" fill="#000"/>
<rect x="524" y="214" width="7" height="36" fill="#000"/>
<rect x="525" y="215" width="5" height="34" fill="#fff"/>
<rect x="538" y="202" width="1" height="79" fill="#000"/>
<rect x="535" y="210" width="7" height="67" fill="#000"/>
<rect x="549" y="245" width="1" height="55" fill="#000"/>
<rect x="546" y="264" width="7" height="13" fill="#000"/>
<rect x="547" y="265" width="5" height="11" fill="#fff"/>
<rect x="560" y="237" width="1" height="40" fill="#000"/>
<rect x="557" y="249" width="7" height="20" fill="#000"/>
<rect x="558" y="250" width="5" height="18" fill="#fff"/>
<rect x="571" y="198" width="1" height="157" fill="#000"/>
<rect x="568" y="249" width="7" height="51" fill="#000"/>
<rect x="581" y="249" width="1" height="90" fill="#000"/>
<rect x="578" y="268" width="7" height="36" fill="#000"/>
<rect x="579" y="269" width="5" height="34" fill="#fff"/>
<rect x="592" y="264" width="1" height="64" fill="#000"/>
<rect x="589" y="272" width="7" height="40" fill="#000"/>
<rect x="603" y="249" width="1" height="63" fill="#000"/>
<rect x="600" y="264" width="7" height="44" fill="#000"/>
<rect x="601" y="265" width="5" height="42" fill="#fff"/>
<rect x="614" y="222" width="1" height="47" fill="#000"/>
<rect x="611" y="260" width="7" height="5" fill="#000"/>
<rect x="612" y="261" width="5" height="3" fill="#fff"/>
<rect x="625" y="249" width="1" height="32" fill="#000"/>
<rect x="622" y="257" width="7" height="8" fill="#000"/>
<rect x="635" y="260" width="1" height="33" fill="#000"/>
<rect x="632" y="264" width="7" height="13" fill="#000"/>
<rect x="646" y="272" width="1" height="40" fill="#000"/>
<rect x="643" y="276" width="7" height="24" fill="#000"/>
<rect x="657" y="292" width="1" height="28" fill="#000"/>
<rect x="654" y="299" width="7" height="5" fill="#000"/>
<rect x="668" y="296" width="1" height="24" fill="#000"/>
<rect x="665" y="303" width="7" height="5" fill="#000"/>
<rect x="679" y="272" width="1" height="67" fill="#000"/>
<rect x="676" y="276" width="7" height="24" fill="#000"/>
<rect x="677" y="277" width="5" height="22" fill="#fff"/>
<rect x="689" y="241" width="1" height="48" fill="#000"/>
<rect x="686" y="249" width="7" height="24" fill="#000"/>
<rect x="687" y="250" width="5" height="22" fill="#fff"/>
<rect x="700" y="202" width="1" height="44" fill="#000"/>
<rect x="697" y="222" width="7" height="24" fill="#000"/>
<rect x="698" y="223" width="5" height="22" fill="#fff"/>
<rect x="711" y="214" width="1" height="44" fill="#000"/>
<rect x="708" y="218" width="7" height="24" fill="#000"/>
<rect x="719" y="241" width="7" height="1" fill="#000"/>
<rect x="733" y="132" width="1" height="56" fill="#000"/>
<rect x="730" y="163" width="7" height="13" fill="#000"/>
<rect x="744" y="125" width="1" height="55" fill="#000"/>
<rect x="741" y="156" width="7" height="20" fill="#000"/>
<rect x="742" y="157" width="5" height="18" fill="#fff"/>
<rect x="754" y="156" width="1" height="28" fill="#000"/>
<rect x="751" y="159" width="7" height="17" fill="#000"/>
<rect x="765" y="163" width="1" height="48" fill="#000"/>
<rect x="762" y="175" width="7" height="32" fill="#000"/>
<rect x="776" y="163" width="1" height="75" fill="#000"/>
<rect x="773" y="175" width="7" height="32" fill="#000"/>
<rect x="774" y="176" width="5" height="30" fill="#fff"/>
<rect x="787" y="172" width="1" height="31" fill="#000"/>
<rect x="784" y="179" width="7" height="1" fill="#000"/>
<rect x="798" y="97" width="1" height="83" fill="#000"/>
<rect x="795" y="125" width="7" height="55" fill="#000"/>
<rect x="796" y="126" width="5" height="53" fill="#fff"/>
<rect x="808" y="90" width="1" height="43" fill="#000"/>
<rect x="805" y="109" width="7" height="17" fill="#000"/>
<rect x="806" y="110" width="5" height="15" fill="#fff"/>
<rect x="819" y="24" width="1" height="86" fill="#000"/>
<rect x="816" y="59" width="7" height="51" fill="#000"/>
<rect x="817" y="60" width="5" height="49" fill="#fff"/>
<rect x="830" y="51" width="1" height="13" fill="#000"/>
<rect x="827" y="55" width="7" height="5" fill="#000"/>
<rect x="828" y="56" width="5" height="3" fill="#fff"/>
<polyline points="63.50,139.50 73.50,139.00 84.50,149.50 95.50,184.50 106.50,223.20 117.50,259.10 127.50,292.50 138.50,326.10 149.50,357.30 160.50,381.50 171.50,396.50 181.50,402.80 192.50,406.50 203.50,402.00 214.50,397.00 225.50,392.80 235.50,383.50 246.50,341.50 257.50,304.20 268.50,273.50 279.50,260.00 290.50,247.20 300.50,245.50 311.50,242.50 322.50,249.20 333.50,251.50 344.50,256.90 354.50,260.80 365.50,259.70 376.50,259.70 387.50,252.00 398.50,242.50 408.50,237.70 419.50,232.50 430.50,226.80 441.50,221.30 452.50,213.20 462.50,206.50 473.50,203.10 484.50,210.70 495.50,217.30 506.50,224.50 517.50,230.70 527.50,229.70 538.50,240.50 549.50,247.10 560.50,250.30 571.50,261.50 581.50,265.50 592.50,274.70 603.50,274.70 614.50,273.80 625.50,273.80 635.50,273.80 646.50,279.50 657.50,284.90 668.50,289.80 679.50,287.80 689.50,281.00 700.50,270.30 711.50,262.50 722.50,257.00 733.50,239.00 744.50,217.50 754.50,206.00 765.50,200.70 776.50,193.00 787.50,187.50 798.50,174.00 808.50,159.00 819.50,137.30 830.50,116.50" fill="none" stroke="#0000ff" stroke-width="1" stroke-linejoin="round"/>
<polyline points="63.50,125.25 69.75,123.00 73.50,121.75 86.00,121.75 92.25,124.25 104.75,129.90 117.25,138.00 129.75,148.60 142.25,158.00 152.50,170.50 159.75,178.25 167.50,186.80 176.30,193.70 182.80,199.60 189.00,203.70 196.50,209.30 202.80,213.70 209.10,219.70 220.40,229.40 227.90,235.70 234.10,241.30 239.20,242.50 251.70,245.30 264.20,248.20 276.80,250.30 284.30,252.20 295.50,254.50 309.00,259.00 321.50,262.80 334.10,265.50 346.60,270.30 355.40,272.40 366.70,274.30 378.00,277.10 389.20,279.60 396.80,282.50 409.30,285.00 418.10,287.10 425.30,287.30 431.50,287.90 440.30,290.80 447.80,291.90 464.10,291.90 471.60,288.30 481.70,285.40 491.70,282.90 504.20,278.50 513.00,274.50 523.00,269.70 530.50,265.90 536.50,264.20 549.00,259.40 561.50,253.20 574.10,250.00 581.60,247.90 594.10,246.70 604.20,242.90 614.80,240.60 624.20,242.50 636.80,246.70 649.30,250.00 656.50,251.10 666.50,252.80 686.50,252.80 694.10,252.00 709.10,249.70 724.20,249.20 736.70,245.70 754.20,241.90 769.30,241.30 781.80,240.00 788.10,239.20 798.10,236.30 808.70,233.80 819.40,229.40 830.00,225.60" fill="none" stroke="#ff0000" stroke-width="1" stroke-linejoin="round"/>
<rect x="776" y="31" width="72" height="2" fill="#0000ff"/>
<rect x="754" y="100" width="77" height="2" fill="#0000ff"/>
<rect x="808" y="185" width="50" height="2" fill="#ff00ff"/>
<rect x="776" y="248" width="62" height="2" fill="#ff00ff"/>
<rect x="787" y="217" width="1" height="96" fill="#008000"/>
<rect x="808" y="143" width="1" height="138" fill="#008000"/>
<circle cx="814.5" cy="32.0" r="11.5" fill="none" stroke="#0000ff" stroke-width="1"/>
<circle cx="792.3" cy="101.0" r="11.5" fill="none" stroke="#0000ff" stroke-width="1"/>
<circle cx="787.1" cy="182.5" r="11" fill="none" stroke="#00ff00" stroke-width="1"/>
<circle cx="809.5" cy="113.5" r="10.5" fill="none" stroke="#00ff00" stroke-width="1"/>
<rect x="66" y="4" width="1" height="10" fill="#000"/>
<rect x="63" y="6" width="7" height="6" fill="#000"/>
<rect x="64" y="7" width="5" height="4" fill="#fff"/>
<path d="M61 18h1v1h-1zM61 28h1v1h-1zM62 19h1v1h-1zM62 20h1v1h-1zM62 26h1v1h-1zM62 27h1v1h-1zM63 21h1v1h-1zM63 22h1v1h-1zM63 24h1v1h-1zM63 25h1v1h-1zM64 22h1v1h-1zM64 23h1v1h-1zM64 24h1v1h-1zM65 20h1v1h-1zM65 21h1v1h-1zM65 25h1v1h-1zM65 26h1v1h-1zM66 18h1v1h-1zM66 19h1v1h-1zM66 27h1v1h-1zM66 28h1v1h-1zM67 19h1v1h-1zM67 20h1v1h-1zM67 26h1v1h-1zM67 27h1v1h-1zM68 21h1v1h-1zM68 22h1v1h-1zM68 24h1v1h-1zM68 25h1v1h-1zM69 22h1v1h-1zM69 23h1v1h-1zM69 24h1v1h-1zM70 20h1v1h-1zM70 21h1v1h-1zM70 25h1v1h-1zM70 26h1v1h-1zM71 18h1v1h-1zM71 19h1v1h-1zM71 27h1v1h-1zM71 28h1v1h-1z" fill="#0000ff"/>
<path d="M61 32h1v1h-1zM61 42h1v1h-1zM62 33h1v1h-1zM62 34h1v1h-1zM62 40h1v1h-1zM62 41h1v1h-1zM63 35h1v1h-1zM63 36h1v1h-1zM63 38h1v1h-1zM63 39h1v1h-1zM64 36h1v1h-1zM64 37h1v1h-1zM64 38h1v1h-1zM65 34h1v1h-1zM65 35h1v1h-1zM65 39h1v1h-1zM65 40h1v1h-1zM66 32h1v1h-1zM66 33h1v1h-1zM66 41h1v1h-1zM66 42h1v1h-1zM67 33h1v1h-1zM67 34h1v1h-1zM67 40h1v1h-1zM67 41h1v1h-1zM68 35h1v1h-1zM68 36h1v1h-1zM68 38h1v1h-1zM68 39h1v1h-1zM69 36h1v1h-1zM69 37h1v1h-1zM69 38h1v1h-1zM70 34h1v1h-1zM70 35h1v1h-1zM70 39h1v1h-1zM70 40h1v1h-1zM71 32h1v1h-1zM71 33h1v1h-1zM71 41h1v1h-1zM71 42h1v1h-1z" fill="#ff0000"/>
<rect x="58" y="510" width="909" height="1" fill="#ff00ff"/>
<rect x="58" y="616" width="909" height="1" fill="#00ff00"/>
<path d="M58 563.5H76 M82 563.5H100 M106 563.5H124 M130 563.5H148 M154 563.5H172 M178 563.5H196 M202 563.5H220 M226 563.5H244 M250 563.5H268 M274 563.5H292 M298 563.5H316 M322 563.5H340 M346 563.5H364 M370 563.5H388 M394 563.5H412 M418 563.5H436 M442 563.5H460 M466 563.5H484 M490 563.5H508 M514 563.5H532 M538 563.5H556 M562 563.5H580 M586 563.5H604 M610 563.5H628 M634 563.5H652 M658 563.5H676 M682 563.5H700 M706 563.5H724 M730 563.5H748 M754 563.5H772 M778 563.5H796 M802 563.5H820 M826 563.5H844 M850 563.5H868 M874 563.5H892 M898 563.5H916 M922 563.5H940 M946 563.5H964" stroke="#0000ff" stroke-width="1" fill="none"/>
<polyline points="63.50,545.50 73.50,559.50 76.50,563.70 85.30,574.30 95.30,579.30 100.40,586.90 106.60,598.10 112.40,616.80 116.80,630.60 121.80,643.70 128.10,658.40 138.10,656.60 146.90,646.90 154.40,638.10 161.90,627.40 166.30,616.80 172.60,604.90 176.80,590.60 181.80,571.50 192.80,544.40 204.10,523.70 214.70,502.70 219.10,505.50 226.00,511.50 234.10,505.80 237.90,503.90 246.70,501.80 256.70,503.90 260.50,510.50 266.70,528.10 273.00,540.00 276.80,545.60 280.50,553.80 283.00,563.20 285.50,570.70 289.30,583.50 300.30,616.90 301.10,619.10 311.00,621.90 322.60,615.00 332.60,577.60 340.90,564.40 354.20,539.50 367.40,526.20 377.00,513.80 387.30,517.40 398.10,519.60 408.00,526.20 412.00,537.00 418.60,558.60 431.00,571.00 441.80,578.50 452.60,564.40 459.20,558.60 474.20,542.00 484.90,550.30 496.50,571.00 506.50,603.70 517.30,606.70 527.20,601.70 533.30,606.30 538.90,612.00 543.90,612.00 550.20,610.70 560.80,595.70 570.90,603.80 582.10,603.80 592.80,590.70 597.20,580.60 604.10,562.50 613.50,557.80 617.90,554.60 626.00,548.00 635.40,564.10 646.70,570.00 651.10,580.10 657.80,595.90 668.50,618.20 680.20,595.90 688.50,563.50 699.20,527.00 701.70,523.70 711.70,510.50 717.50,508.80 723.30,508.00 733.20,522.10 744.80,532.80 754.00,566.80 765.60,595.00 777.50,568.90 781.00,566.50 798.50,558.90 808.20,527.40 819.90,485.90 830.10,488.90" fill="none" stroke="#0000ff" stroke-width="1" stroke-linejoin="round"/>
<circle cx="787.5" cy="561.5" r="11" fill="none" stroke="#00ff00" stroke-width="1"/>
<circle cx="809" cy="518" r="10.6" fill="none" stroke="#00ff00" stroke-width="1"/>
<path d="M61 455h1v1h-1zM61 465h1v1h-1zM62 456h1v1h-1zM62 457h1v1h-1zM62 463h1v1h-1zM62 464h1v1h-1zM63 458h1v1h-1zM63 459h1v1h-1zM63 461h1v1h-1zM63 462h1v1h-1zM64 459h1v1h-1zM64 460h1v1h-1zM64 461h1v1h-1zM65 457h1v1h-1zM65 458h1v1h-1zM65 462h1v1h-1zM65 463h1v1h-1zM66 455h1v1h-1zM66 456h1v1h-1zM66 464h1v1h-1zM66 465h1v1h-1zM67 456h1v1h-1zM67 457h1v1h-1zM67 463h1v1h-1zM67 464h1v1h-1zM68 458h1v1h-1zM68 459h1v1h-1zM68 461h1v1h-1zM68 462h1v1h-1zM69 459h1v1h-1zM69 460h1v1h-1zM69 461h1v1h-1zM70 457h1v1h-1zM70 458h1v1h-1zM70 462h1v1h-1zM70 463h1v1h-1zM71 455h1v1h-1zM71 456h1v1h-1zM71 464h1v1h-1zM71 465h1v1h-1z" fill="#0000ff"/>
<rect x="95" y="699" width="1" height="5" fill="#000"/>
<rect x="138" y="699" width="1" height="5" fill="#000"/>
<rect x="181" y="699" width="1" height="5" fill="#000"/>
<rect x="225" y="699" width="1" height="5" fill="#000"/>
<rect x="246" y="699" width="1" height="5" fill="#000"/>
<rect x="279" y="699" width="1" height="5" fill="#000"/>
<rect x="322" y="699" width="1" height="5" fill="#000"/>
<rect x="365" y="699" width="1" height="5" fill="#000"/>
<rect x="408" y="699" width="1" height="5" fill="#000"/>
<rect x="452" y="699" width="1" height="5" fill="#000"/>
<rect x="495" y="699" width="1" height="5" fill="#000"/>
<rect x="538" y="699" width="1" height="5" fill="#000"/>
<rect x="581" y="699" width="1" height="5" fill="#000"/>
<rect x="625" y="699" width="1" height="5" fill="#000"/>
<rect x="668" y="699" width="1" height="5" fill="#000"/>
<rect x="711" y="699" width="1" height="5" fill="#000"/>
<rect x="733" y="699" width="1" height="5" fill="#000"/>
<rect x="765" y="699" width="1" height="5" fill="#000"/>
<rect x="808" y="699" width="1" height="5" fill="#000"/>
<text x="336" y="739" fill="#777777" font-size="9.6" textLength="351" lengthAdjust="spacingAndGlyphs">TradeSignal® and www.technical-investor.de © by SystemSoft, www.systemsoft.de</text>
<g filter="url(#crisp)">
<text x="51" y="51" fill="#000" font-size="12" text-anchor="end" textLength="24" lengthAdjust="spacingAndGlyphs">4160</text>
<text x="975" y="51" fill="#000" font-size="12" textLength="24" lengthAdjust="spacingAndGlyphs">4160</text>
<text x="51" y="67" fill="#000" font-size="12" text-anchor="end" textLength="24" lengthAdjust="spacingAndGlyphs">4158</text>
<text x="975" y="67" fill="#000" font-size="12" textLength="24" lengthAdjust="spacingAndGlyphs">4158</text>
<text x="51" y="82" fill="#000" font-size="12" text-anchor="end" textLength="24" lengthAdjust="spacingAndGlyphs">4156</text>
<text x="975" y="82" fill="#000" font-size="12" textLength="24" lengthAdjust="spacingAndGlyphs">4156</text>
<text x="51" y="98" fill="#000" font-size="12" text-anchor="end" textLength="24" lengthAdjust="spacingAndGlyphs">4154</text>
<text x="975" y="98" fill="#000" font-size="12" textLength="24" lengthAdjust="spacingAndGlyphs">4154</text>
<text x="51" y="113" fill="#000" font-size="12" text-anchor="end" textLength="24" lengthAdjust="spacingAndGlyphs">4152</text>
<text x="975" y="113" fill="#000" font-size="12" textLength="24" lengthAdjust="spacingAndGlyphs">4152</text>
<text x="51" y="129" fill="#000" font-size="12" text-anchor="end" textLength="24" lengthAdjust="spacingAndGlyphs">4150</text>
<text x="975" y="129" fill="#000" font-size="12" textLength="24" lengthAdjust="spacingAndGlyphs">4150</text>
<text x="51" y="145" fill="#000" font-size="12" text-anchor="end" textLength="24" lengthAdjust="spacingAndGlyphs">4148</text>
<text x="975" y="145" fill="#000" font-size="12" textLength="24" lengthAdjust="spacingAndGlyphs">4148</text>
<text x="51" y="160" fill="#000" font-size="12" text-anchor="end" textLength="24" lengthAdjust="spacingAndGlyphs">4146</text>
<text x="975" y="160" fill="#000" font-size="12" textLength="24" lengthAdjust="spacingAndGlyphs">4146</text>
<text x="51" y="176" fill="#000" font-size="12" text-anchor="end" textLength="24" lengthAdjust="spacingAndGlyphs">4144</text>
<text x="975" y="176" fill="#000" font-size="12" textLength="24" lengthAdjust="spacingAndGlyphs">4144</text>
<text x="51" y="191" fill="#000" font-size="12" text-anchor="end" textLength="24" lengthAdjust="spacingAndGlyphs">4142</text>
<text x="975" y="191" fill="#000" font-size="12" textLength="24" lengthAdjust="spacingAndGlyphs">4142</text>
<text x="51" y="207" fill="#000" font-size="12" text-anchor="end" textLength="24" lengthAdjust="spacingAndGlyphs">4140</text>
<text x="975" y="207" fill="#000" font-size="12" textLength="24" lengthAdjust="spacingAndGlyphs">4140</text>
<text x="51" y="223" fill="#000" font-size="12" text-anchor="end" textLength="24" lengthAdjust="spacingAndGlyphs">4138</text>
<text x="975" y="223" fill="#000" font-size="12" textLength="24" lengthAdjust="spacingAndGlyphs">4138</text>
<text x="51" y="238" fill="#000" font-size="12" text-anchor="end" textLength="24" lengthAdjust="spacingAndGlyphs">4136</text>
<text x="975" y="238" fill="#000" font-size="12" textLength="24" lengthAdjust="spacingAndGlyphs">4136</text>
<text x="51" y="254" fill="#000" font-size="12" text-anchor="end" textLength="24" lengthAdjust="spacingAndGlyphs">4134</text>
<text x="975" y="254" fill="#000" font-size="12" textLength="24" lengthAdjust="spacingAndGlyphs">4134</text>
<text x="51" y="270" fill="#000" font-size="12" text-anchor="end" textLength="24" lengthAdjust="spacingAndGlyphs">4132</text>
<text x="975" y="270" fill="#000" font-size="12" textLength="24" lengthAdjust="spacingAndGlyphs">4132</text>
<text x="51" y="285" fill="#000" font-size="12" text-anchor="end" textLength="24" lengthAdjust="spacingAndGlyphs">4130</text>
<text x="975" y="285" fill="#000" font-size="12" textLength="24" lengthAdjust="spacingAndGlyphs">4130</text>
<text x="51" y="301" fill="#000" font-size="12" text-anchor="end" textLength="24" lengthAdjust="spacingAndGlyphs">4128</text>
<text x="975" y="301" fill="#000" font-size="12" textLength="24" lengthAdjust="spacingAndGlyphs">4128</text>
<text x="51" y="317" fill="#000" font-size="12" text-anchor="end" textLength="24" lengthAdjust="spacingAndGlyphs">4126</text>
<text x="975" y="317" fill="#000" font-size="12" textLength="24" lengthAdjust="spacingAndGlyphs">4126</text>
<text x="51" y="332" fill="#000" font-size="12" text-anchor="end" textLength="24" lengthAdjust="spacingAndGlyphs">4124</text>
<text x="975" y="332" fill="#000" font-size="12" textLength="24" lengthAdjust="spacingAndGlyphs">4124</text>
<text x="51" y="348" fill="#000" font-size="12" text-anchor="end" textLength="24" lengthAdjust="spacingAndGlyphs">4122</text>
<text x="975" y="348" fill="#000" font-size="12" textLength="24" lengthAdjust="spacingAndGlyphs">4122</text>
<text x="51" y="364" fill="#000" font-size="12" text-anchor="end" textLength="24" lengthAdjust="spacingAndGlyphs">4120</text>
<text x="975" y="364" fill="#000" font-size="12" textLength="24" lengthAdjust="spacingAndGlyphs">4120</text>
<text x="51" y="380" fill="#000" font-size="12" text-anchor="end" textLength="24" lengthAdjust="spacingAndGlyphs">4118</text>
<text x="975" y="380" fill="#000" font-size="12" textLength="24" lengthAdjust="spacingAndGlyphs">4118</text>
<text x="51" y="395" fill="#000" font-size="12" text-anchor="end" textLength="24" lengthAdjust="spacingAndGlyphs">4116</text>
<text x="975" y="395" fill="#000" font-size="12" textLength="24" lengthAdjust="spacingAndGlyphs">4116</text>
<text x="51" y="411" fill="#000" font-size="12" text-anchor="end" textLength="24" lengthAdjust="spacingAndGlyphs">4114</text>
<text x="975" y="411" fill="#000" font-size="12" textLength="24" lengthAdjust="spacingAndGlyphs">4114</text>
<text x="51" y="427" fill="#000" font-size="12" text-anchor="end" textLength="24" lengthAdjust="spacingAndGlyphs">4112</text>
<text x="975" y="427" fill="#000" font-size="12" textLength="24" lengthAdjust="spacingAndGlyphs">4112</text>
<text x="51" y="443" fill="#000" font-size="12" text-anchor="end" textLength="24" lengthAdjust="spacingAndGlyphs">4110</text>
<text x="975" y="443" fill="#000" font-size="12" textLength="24" lengthAdjust="spacingAndGlyphs">4110</text>
<text x="975" y="487" fill="#000" font-size="12" textLength="12" lengthAdjust="spacingAndGlyphs">80</text>
<text x="51" y="501" fill="#000" font-size="12" text-anchor="end" textLength="12" lengthAdjust="spacingAndGlyphs">75</text>
<text x="975" y="501" fill="#000" font-size="12" textLength="12" lengthAdjust="spacingAndGlyphs">75</text>
<text x="51" y="514" fill="#000" font-size="12" text-anchor="end" textLength="12" lengthAdjust="spacingAndGlyphs">70</text>
<text x="975" y="514" fill="#000" font-size="12" textLength="12" lengthAdjust="spacingAndGlyphs">70</text>
<text x="51" y="527" fill="#000" font-size="12" text-anchor="end" textLength="12" lengthAdjust="spacingAndGlyphs">65</text>
<text x="975" y="527" fill="#000" font-size="12" textLength="12" lengthAdjust="spacingAndGlyphs">65</text>
<text x="51" y="541" fill="#000" font-size="12" text-anchor="end" textLength="12" lengthAdjust="spacingAndGlyphs">60</text>
<text x="975" y="541" fill="#000" font-size="12" textLength="12" lengthAdjust="spacingAndGlyphs">60</text>
<text x="51" y="554" fill="#000" font-size="12" text-anchor="end" textLength="12" lengthAdjust="spacingAndGlyphs">55</text>
<text x="975" y="554" fill="#000" font-size="12" textLength="12" lengthAdjust="spacingAndGlyphs">55</text>
<text x="51" y="568" fill="#000" font-size="12" text-anchor="end" textLength="12" lengthAdjust="spacingAndGlyphs">50</text>
<text x="975" y="568" fill="#000" font-size="12" textLength="12" lengthAdjust="spacingAndGlyphs">50</text>
<text x="51" y="581" fill="#000" font-size="12" text-anchor="end" textLength="12" lengthAdjust="spacingAndGlyphs">45</text>
<text x="975" y="581" fill="#000" font-size="12" textLength="12" lengthAdjust="spacingAndGlyphs">45</text>
<text x="51" y="594" fill="#000" font-size="12" text-anchor="end" textLength="12" lengthAdjust="spacingAndGlyphs">40</text>
<text x="975" y="594" fill="#000" font-size="12" textLength="12" lengthAdjust="spacingAndGlyphs">40</text>
<text x="51" y="608" fill="#000" font-size="12" text-anchor="end" textLength="12" lengthAdjust="spacingAndGlyphs">35</text>
<text x="975" y="608" fill="#000" font-size="12" textLength="12" lengthAdjust="spacingAndGlyphs">35</text>
<text x="51" y="621" fill="#000" font-size="12" text-anchor="end" textLength="12" lengthAdjust="spacingAndGlyphs">30</text>
<text x="975" y="621" fill="#000" font-size="12" textLength="12" lengthAdjust="spacingAndGlyphs">30</text>
<text x="51" y="635" fill="#000" font-size="12" text-anchor="end" textLength="12" lengthAdjust="spacingAndGlyphs">25</text>
<text x="975" y="635" fill="#000" font-size="12" textLength="12" lengthAdjust="spacingAndGlyphs">25</text>
<text x="51" y="648" fill="#000" font-size="12" text-anchor="end" textLength="12" lengthAdjust="spacingAndGlyphs">20</text>
<text x="975" y="648" fill="#000" font-size="12" textLength="12" lengthAdjust="spacingAndGlyphs">20</text>
<text x="51" y="661" fill="#000" font-size="12" text-anchor="end" textLength="12" lengthAdjust="spacingAndGlyphs">15</text>
<text x="975" y="661" fill="#000" font-size="12" textLength="12" lengthAdjust="spacingAndGlyphs">15</text>
<text x="51" y="675" fill="#000" font-size="12" text-anchor="end" textLength="12" lengthAdjust="spacingAndGlyphs">10</text>
<text x="975" y="675" fill="#000" font-size="12" textLength="12" lengthAdjust="spacingAndGlyphs">10</text>
<text x="51" y="688" fill="#000" font-size="12" text-anchor="end" textLength="6" lengthAdjust="spacingAndGlyphs">5</text>
<text x="975" y="688" fill="#000" font-size="12" textLength="6" lengthAdjust="spacingAndGlyphs">5</text>
<text x="3.5" y="13" fill="#000" font-size="12" textLength="22" lengthAdjust="spacingAndGlyphs">EUR</text>
<text x="1021" y="13" fill="#000" font-size="12" text-anchor="end" textLength="22" lengthAdjust="spacingAndGlyphs">EUR</text>
<text x="3" y="463" fill="#000" font-size="12" textLength="23" lengthAdjust="spacingAndGlyphs">SMA</text>
<text x="745" y="36" fill="#000" font-size="12" textLength="21" lengthAdjust="spacingAndGlyphs">PZ2</text>
<text x="723" y="106" fill="#000" font-size="12" textLength="19" lengthAdjust="spacingAndGlyphs">PZ1</text>
<text x="869" y="189" fill="#000" font-size="12" textLength="20" lengthAdjust="spacingAndGlyphs">SL2</text>
<text x="745" y="253" fill="#000" font-size="12" textLength="18" lengthAdjust="spacingAndGlyphs">SL1</text>
<text x="799" y="297" fill="#000" font-size="12" textLength="13" lengthAdjust="spacingAndGlyphs">L2</text>
<text x="777" y="328" fill="#000" font-size="12" textLength="11" lengthAdjust="spacingAndGlyphs">L1</text>
<text x="75" y="14" fill="#000" font-size="12" textLength="379" lengthAdjust="spacingAndGlyphs">846959  FDAX, 15 Minuten - 23.11.2004 16:15:00 - 25.11.2004 11:30:00 - 4159</text>
<text x="75" y="28" fill="#0000ff" font-size="12" textLength="141" lengthAdjust="spacingAndGlyphs">WMA [Close, 9]:4151.188889</text>
<text x="75.5" y="42" fill="#ff0000" font-size="12" textLength="142" lengthAdjust="spacingAndGlyphs">SMA [Close, 35]:4137.085714</text>
<text x="73" y="508" fill="#ff00ff" font-size="12" textLength="13" lengthAdjust="spacingAndGlyphs">70</text>
<text x="73" y="561" fill="#0000ff" font-size="12" textLength="13" lengthAdjust="spacingAndGlyphs">50</text>
<text x="73" y="614" fill="#00ff00" font-size="12" textLength="13" lengthAdjust="spacingAndGlyphs">30</text>
<text x="75.2" y="464" fill="#0000ff" font-size="12" textLength="168" lengthAdjust="spacingAndGlyphs">SMA(2) [Williams %R, 5]:78.238023</text>
<text x="64.5" y="717" fill="#000" font-size="12" textLength="28" lengthAdjust="spacingAndGlyphs">16:15</text>
<text x="101.2" y="717" fill="#000" font-size="12" textLength="28" lengthAdjust="spacingAndGlyphs">17:00</text>
<text x="143.8" y="717" fill="#000" font-size="12" textLength="28" lengthAdjust="spacingAndGlyphs">18:00</text>
<text x="188.0" y="717" fill="#000" font-size="12" textLength="28" lengthAdjust="spacingAndGlyphs">19:00</text>
<text x="253.0" y="717" fill="#000" font-size="12" textLength="15" lengthAdjust="spacingAndGlyphs">24.</text>
<text x="285.2" y="717" fill="#000" font-size="12" textLength="28" lengthAdjust="spacingAndGlyphs">10:00</text>
<text x="328.2" y="717" fill="#000" font-size="12" textLength="28" lengthAdjust="spacingAndGlyphs">11:00</text>
<text x="371.2" y="717" fill="#000" font-size="12" textLength="28" lengthAdjust="spacingAndGlyphs">12:00</text>
<text x="415.0" y="717" fill="#000" font-size="12" textLength="28" lengthAdjust="spacingAndGlyphs">13:00</text>
<text x="457.9" y="717" fill="#000" font-size="12" textLength="28" lengthAdjust="spacingAndGlyphs">14:00</text>
<text x="500.9" y="717" fill="#000" font-size="12" textLength="28" lengthAdjust="spacingAndGlyphs">15:00</text>
<text x="544.2" y="717" fill="#000" font-size="12" textLength="28" lengthAdjust="spacingAndGlyphs">16:00</text>
<text x="587.9" y="717" fill="#000" font-size="12" textLength="28" lengthAdjust="spacingAndGlyphs">17:00</text>
<text x="630.9" y="717" fill="#000" font-size="12" textLength="28" lengthAdjust="spacingAndGlyphs">18:00</text>
<text x="674.2" y="717" fill="#000" font-size="12" textLength="28" lengthAdjust="spacingAndGlyphs">19:00</text>
<text x="740.3" y="717" fill="#000" font-size="12" textLength="15" lengthAdjust="spacingAndGlyphs">25.</text>
<text x="771.2" y="717" fill="#000" font-size="12" textLength="28" lengthAdjust="spacingAndGlyphs">10:00</text>
<text x="812.3" y="717" fill="#000" font-size="12" textLength="28" lengthAdjust="spacingAndGlyphs">11:00</text>
</g>
</svg>
</body></html>
